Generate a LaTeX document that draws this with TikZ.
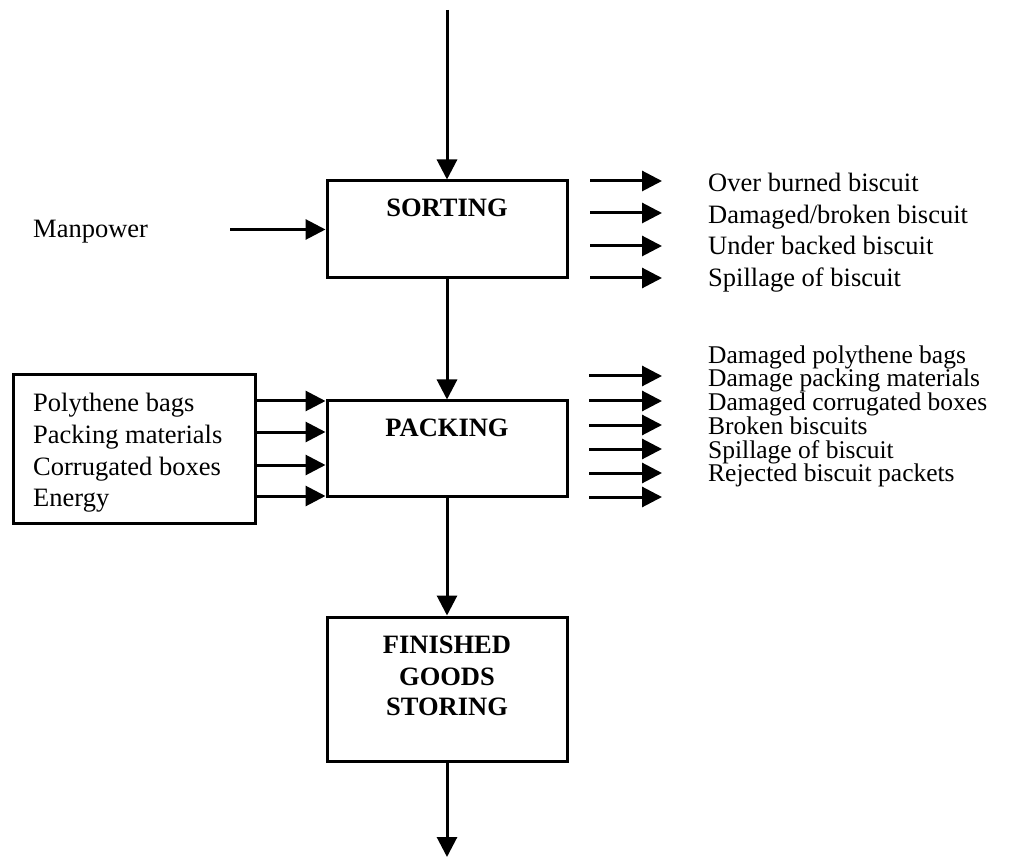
\documentclass[tikz,border=0pt]{standalone}
\usepackage{fontspec}
\setmainfont{Liberation Serif}
\usetikzlibrary{arrows.meta,calc}
\begin{document}
\begin{tikzpicture}[x=1pt,y=-1pt,
  procbox/.style={draw, line width=3pt, inner sep=0pt, minimum width=240pt},
  flow/.style={-{Triangle[length=20pt,width=20pt]}, line width=3pt},
  lbl/.style={font=\fontsize{26.5}{30}\selectfont, inner sep=0pt, anchor=base west},
  tightlbl/.style={lbl, font=\fontsize{25.5}{28}\selectfont},
  ttl/.style={font=\fontsize{26.5}{31}\selectfont\bfseries, inner sep=0pt, anchor=base}]
\useasboundingbox (0,0) rectangle (1012,858);
% process boxes
\node[procbox, minimum height=97pt] (sorting) at (447,229.5) {};
\node[ttl] (sortingtxt) at (447,216.7) {SORTING};
\node[procbox, minimum height=95pt] (packing) at (447,448.5) {};
\node[ttl] (packingtxt) at (447,436.7) {PACKING};
\node[procbox, minimum height=144pt] (finished) at (447,689) {};
\node[ttl] (fin1) at (447,653) {FINISHED};
\node[ttl] (fin2) at (447,685) {GOODS};
\node[ttl] (fin3) at (447,715) {STORING};
% input box
\node[draw, line width=3pt, inner sep=0pt, minimum width=242pt, minimum height=148pt] (inputs) at (134,449) {};
\node[lbl] (in1) at (33,412) {Polythene bags};
\node[lbl] (in2) at (33,443.5) {Packing materials};
\node[lbl] (in3) at (33,475) {Corrugated boxes};
\node[lbl] (in4) at (33,506) {Energy};
% main flow
\coordinate (src) at (447,10);
\coordinate (sink) at (447,857);
\draw[flow] (src) -- (sorting.north);
\draw[flow] (sorting.south) -- (packing.north);
\draw[flow] (packing.south) -- (finished.north);
\draw[flow] (finished.south) -- (sink);
% manpower
\node[lbl] (manpower) at (33,238) {Manpower};
\coordinate (mp) at (230,229.5);
\draw[flow] (mp) -- (sorting.west);
% packing inputs
\foreach \y [count=\i] in {401,432,465,496} {
  \coordinate (ry\i) at (0,\y);
  \draw[flow] (inputs.east |- ry\i) -- (packing.west |- ry\i);
}
% sorting outputs
\foreach \y [count=\i] in {181,213,246,278} {
  \coordinate (soa\i) at (590,\y);
  \coordinate (sob\i) at (662,\y);
  \draw[flow] (soa\i) -- (sob\i);
}
\node[lbl] (so1) at (708,192) {Over burned biscuit};
\node[lbl] (so2) at (708,223.5) {Damaged/broken biscuit};
\node[lbl] (so3) at (708,255) {Under backed biscuit};
\node[lbl] (so4) at (708,286.5) {Spillage of biscuit};
% packing outputs
\foreach \y [count=\i] in {376,401,425,449,473,497} {
  \coordinate (poa\i) at (589,\y);
  \coordinate (pob\i) at (662,\y);
  \draw[flow] (poa\i) -- (pob\i);
}
\node[tightlbl] (po1) at (708,363.3) {Damaged polythene bags};
\node[tightlbl] (po2) at (708,387) {Damage packing materials};
\node[tightlbl] (po3) at (708,410.7) {Damaged corrugated boxes};
\node[tightlbl] (po4) at (708,434.4) {Broken biscuits};
\node[tightlbl] (po5) at (708,458.1) {Spillage of biscuit};
\node[tightlbl] (po6) at (708,481.8) {Rejected biscuit packets};
\end{tikzpicture}
\end{document}
